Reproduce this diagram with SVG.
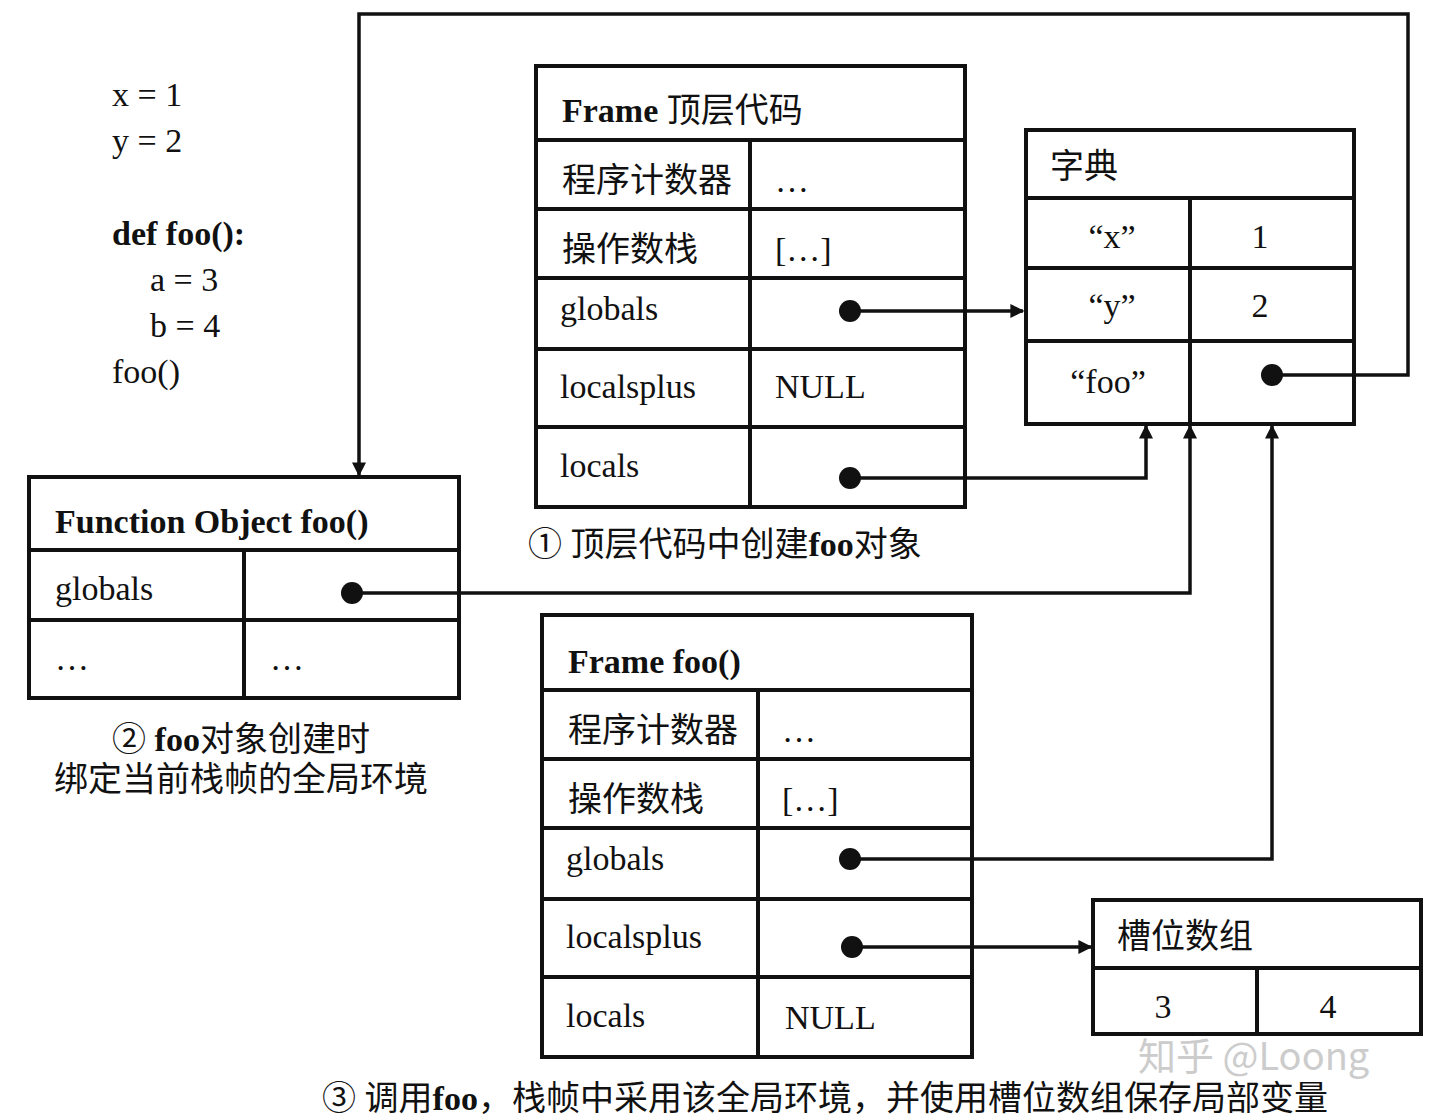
<svg xmlns="http://www.w3.org/2000/svg" width="1440" height="1117" viewBox="0 0 1440 1117">
<style>
text{font-family:"Liberation Serif","Noto Sans CJK SC",serif;font-size:34px;fill:#111}
.b{font-weight:bold}
.box{fill:none;stroke:#111;stroke-width:4}
.ln{fill:none;stroke:#111;stroke-width:3.5}
.c{text-anchor:middle}
</style>
<defs>
<marker id="ah" viewBox="0 0 10 10" refX="9" refY="5" markerWidth="4" markerHeight="4" orient="auto"><path d="M0,0L10,5L0,10z" fill="#111"/></marker>
</defs>
<rect width="1440" height="1117" fill="#fff"/>
<g id="code">
<text x="112" y="106">x = 1</text>
<text x="112" y="152">y = 2</text>
<text x="112" y="245" class="b">def foo():</text>
<text x="150" y="291">a = 3</text>
<text x="150" y="337">b = 4</text>
<text x="112" y="383">foo()</text>
</g>
<g id="frame-top">
<rect class="box" x="536" y="66" width="429" height="441"/>
<path class="box" d="M536,140H965M536,209H965M536,278H965M536,349H965M536,427H965M750,140V507"/>
<text x="562" y="122" class="b">Frame <tspan font-weight="normal">顶层代码</tspan></text>
<text x="562" y="192">程序计数器</text><text x="775" y="192">…</text>
<text x="562" y="261">操作数栈</text><text x="775" y="261">[…]</text>
<text x="560" y="320">globals</text>
<text x="560" y="398">localsplus</text><text x="775" y="398">NULL</text>
<text x="560" y="477">locals</text>
</g>
<g id="dict">
<rect class="box" x="1026" y="130" width="328" height="294"/>
<path class="box" d="M1026,198H1354M1026,268H1354M1026,341H1354M1190,198V424"/>
<text x="1050" y="178">字典</text>
<text x="1112" y="248" class="c">“x”</text><text x="1260" y="248" class="c">1</text>
<text x="1112" y="317" class="c">“y”</text><text x="1260" y="317" class="c">2</text>
<text x="1108" y="393" class="c">“foo”</text>
</g>
<g id="func-obj">
<rect class="box" x="29" y="477" width="430" height="221"/>
<path class="box" d="M29,550H459M29,620H459M244,550V698"/>
<text x="55" y="533" class="b">Function Object foo()</text>
<text x="55" y="600">globals</text>
<text x="55" y="670">…</text><text x="270" y="670">…</text>
</g>
<g id="frame-foo">
<rect class="box" x="542" y="615" width="430" height="442"/>
<path class="box" d="M542,690H972M542,759H972M542,828H972M542,899H972M542,977H972M758,690V1057"/>
<text x="568" y="673" class="b">Frame foo()</text>
<text x="568" y="742">程序计数器</text><text x="782" y="742">…</text>
<text x="568" y="811">操作数栈</text><text x="782" y="811">[…]</text>
<text x="566" y="870">globals</text>
<text x="566" y="948">localsplus</text>
<text x="566" y="1027">locals</text><text x="785" y="1029">NULL</text>
</g>
<g id="slots">
<rect class="box" x="1093" y="900" width="328" height="134"/>
<path class="box" d="M1093,968H1421M1257,968V1034"/>
<text x="1117" y="948">槽位数组</text>
<text x="1163" y="1018" class="c">3</text><text x="1328" y="1018" class="c">4</text>
</g>
<g id="captions">
<text x="528" y="556">① 顶层代码中创建<tspan class="b">foo</tspan>对象</text>
<text x="241" y="751" class="c">② <tspan class="b">foo</tspan>对象创建时</text>
<text x="241" y="791" class="c">绑定当前栈帧的全局环境</text>
<text x="825" y="1110" class="c">③ 调用<tspan class="b">foo</tspan>，栈帧中采用该全局环境，并使用槽位数组保存局部变量</text>
<text x="1138" y="1070" style="fill:#ccc;font-family:'Noto Sans CJK SC',sans-serif;font-size:38px">知乎 @Loong</text>
</g>
<g id="connectors">
<g fill="#111">
<circle cx="850" cy="311" r="11"/><circle cx="850" cy="478" r="11"/>
<circle cx="1272" cy="375" r="11"/><circle cx="352" cy="593" r="11"/>
<circle cx="850" cy="859" r="11"/><circle cx="852" cy="947" r="11"/>
</g>
<path class="ln" marker-end="url(#ah)" d="M850,311H1023"/>
<path class="ln" marker-end="url(#ah)" d="M850,478H1146V426"/>
<path class="ln" marker-end="url(#ah)" d="M352,593H1190V426"/>
<path class="ln" marker-end="url(#ah)" d="M850,859H1272V426"/>
<path class="ln" marker-end="url(#ah)" d="M1272,375H1408V14H359V475"/>
<path class="ln" marker-end="url(#ah)" d="M852,947H1091"/>
</g>
</svg>
